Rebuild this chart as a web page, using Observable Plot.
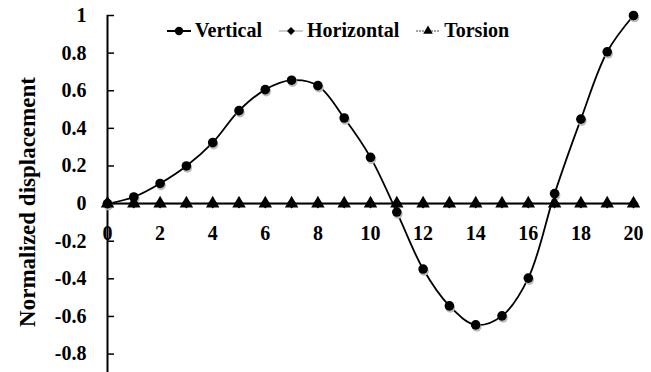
<!DOCTYPE html>
<html>
<head>
<meta charset="utf-8">
<script src="https://cdn.jsdelivr.net/npm/d3@7"></script>
<script src="https://cdn.jsdelivr.net/npm/@observablehq/plot@0.6"></script>
<style>
  html, body { margin: 0; padding: 0; background: #fff; overflow: hidden; }
  #wrap { position: relative; width: 651px; height: 372px; }
  #legend { position: absolute; left: 167px; top: 19px; display: flex; align-items: center;
    font-family: "Liberation Serif", "Times New Roman", serif; font-weight: bold; font-size: 20px; color: #000; }
  .item { display: flex; align-items: center; margin-right: 17px; }
  .item svg { margin-right: 4px; }
</style>
</head>
<body>
<div id="wrap"><div id="legend"></div></div>
<script>
const xValues = [0, 1, 2, 3, 4, 5, 6, 7, 8, 9, 10, 11, 12, 13, 14, 15, 16, 17, 18, 19, 20];
const vertical = [0, 0.035, 0.107, 0.2, 0.324, 0.494, 0.606, 0.656, 0.627, 0.455, 0.246, -0.045, -0.348, -0.544, -0.645, -0.597, -0.396, 0.053, 0.449, 0.807, 1.0];
const horizontal = [0, 0, 0, 0, 0, 0, 0, 0, 0, 0, 0, 0, 0, 0, 0, 0, 0, 0, 0, 0, 0];
const torsion = [0, 0, 0, 0, 0, 0, 0, 0, 0, 0, 0, 0, 0, 0, 0, 0, 0, 0, 0, 0, 0];
const seriesNames = ["Vertical", "Horizontal", "Torsion"];
const xTicks = [0, 2, 4, 6, 8, 10, 12, 14, 16, 18, 20];
const xTickLabels = ["0", "2", "4", "6", "8", "10", "12", "14", "16", "18", "20"];
const yTicks = [-0.8, -0.6, -0.4, -0.2, 0, 0.2, 0.4, 0.6, 0.8, 1];
const yTickLabels = ["-0.8", "-0.6", "-0.4", "-0.2", "0", "0.2", "0.4", "0.6", "0.8", "1"];
const yTitle = "Normalized displacement";

const vData = xValues.map((x, i) => ({x, y: vertical[i]}));
const hData = xValues.map((x, i) => ({x, y: horizontal[i]}));
const tData = xValues.map((x, i) => ({x, y: torsion[i]}));
const xLab = xTicks.map((x, i) => ({x, label: xTickLabels[i]}));

const font = `"Liberation Serif", "Times New Roman", serif`;

const chart = Plot.plot({
  width: 651,
  height: 372,
  marginLeft: 107,
  marginRight: 18,
  marginTop: 15,
  marginBottom: 0,
  style: {fontFamily: font, fontWeight: "bold", fontSize: "20px", background: "#fff", color: "#000"},
  x: {domain: [0, 20], axis: null},
  y: {domain: [-0.898, 1]},
  marks: [
    Plot.axisY({ticks: yTicks, tickFormat: d => yTickLabels[yTicks.indexOf(d)], tickSize: -7, tickPadding: 28, strokeWidth: 1.5, label: null, fontSize: 20, fontFamily: font}),
    Plot.text(xLab, {x: "x", y: 0, text: "label", dy: 30, fontSize: 20, fontWeight: "bold", fontFamily: font}),
    Plot.ruleX([0], {stroke: "#000", strokeWidth: 2}),
    Plot.ruleY([0], {stroke: "#000", strokeWidth: 2}),
    Plot.text([yTitle], {frameAnchor: "left", rotate: -90, dx: -80, dy: 8, fontSize: 23, fontWeight: "bold", textAnchor: "middle", fontFamily: font}),
    Plot.line(vData, {x: "x", y: "y", curve: "catmull-rom", stroke: "#000", strokeWidth: 1.8}),
    Plot.dot(vData, {x: "x", y: "y", r: 4.8, fill: "#bbb", dx: 1, dy: 2, symbol: "circle"}),
    Plot.dot(vData, {x: "x", y: "y", r: 4.8, fill: "#000", symbol: "circle"}),
    Plot.line(hData, {x: "x", y: "y", stroke: "#000", strokeWidth: 1}),
    Plot.dot(hData, {x: "x", y: "y", r: 4.5, fill: "#000", symbol: "diamond2"}),
    Plot.line(tData, {x: "x", y: "y", stroke: "#000", strokeWidth: 1}),
    Plot.dot(tData, {x: "x", y: "y", r: 5, fill: "#000", symbol: "triangle"})
  ]
});
document.getElementById("wrap").prepend(chart);

// Legend
const swatches = [
  {line: "#000", dash: null, width: 2, sym: "circle"},
  {line: "#999", dash: null, width: 1, sym: "diamond"},
  {line: "#444", dash: "2,1", width: 1.2, sym: "triangle"}
];
const legend = d3.select("#legend");
seriesNames.forEach((name, i) => {
  const s = swatches[i];
  const item = legend.append("div").attr("class", "item");
  const svg = item.append("svg").attr("width", 24).attr("height", 14);
  svg.append("line").attr("x1", 0).attr("x2", 24).attr("y1", 7).attr("y2", 7)
    .attr("stroke", s.line).attr("stroke-width", s.width).attr("stroke-dasharray", s.dash);
  const sym = s.sym === "circle" ? d3.symbolCircle : s.sym === "diamond" ? d3.symbolDiamond2 : d3.symbolTriangle;
  svg.append("path").attr("d", d3.symbol(sym, s.sym === "circle" ? 55 : 40)()).attr("transform", "translate(12,7)").attr("fill", "#000");
  item.append("span").text(name);
});
</script>
</body>
</html>
